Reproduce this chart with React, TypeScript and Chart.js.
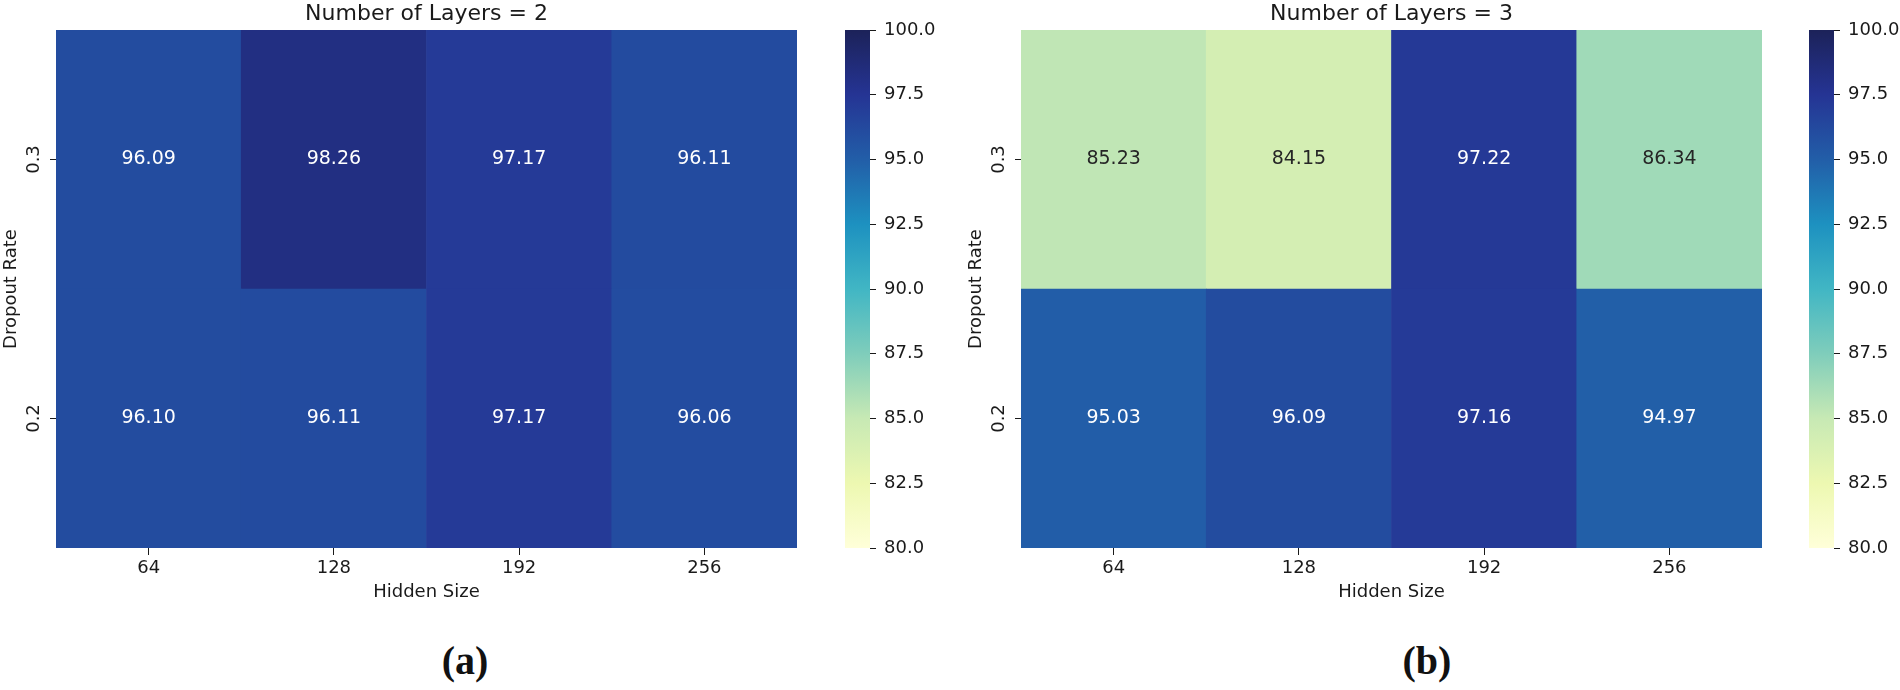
import React, { useEffect, useRef } from "react";
import { Chart, registerables } from "chart.js";

Chart.register(...registerables);

// ---------- data ----------
const hiddenSizes = ["64", "128", "192", "256"];
const dropoutRates = ["0.2", "0.3"]; // bottom row first, top row last
const layers2Drop02 = [96.1, 96.11, 97.17, 96.06];
const layers2Drop03 = [96.09, 98.26, 97.17, 96.11];
const layers3Drop02 = [95.03, 96.09, 97.16, 94.97];
const layers3Drop03 = [85.23, 84.15, 97.22, 86.34];
const colorMin = 80;
const colorMax = 100;
const colorStep = 2.5;
const panelTitles = ["Number of Layers = 2", "Number of Layers = 3"];
const captions = ["(a)", "(b)"];
const xAxisTitle = "Hidden Size";
const yAxisTitle = "Dropout Rate";

// ---------- styling ----------
const FONT = "'DejaVu Sans', sans-serif";
const TEXT = "#1a1a1a";
const YLGNBU = ["#ffffd9", "#edf8b1", "#c7e9b4", "#7fcdbb", "#41b6c4", "#1d91c0", "#225ea8", "#253494", "#1c2259"];

function hexToRgb(h: string): number[] {
  return [parseInt(h.slice(1, 3), 16), parseInt(h.slice(3, 5), 16), parseInt(h.slice(5, 7), 16)];
}

function cmapRgb(v: number): number[] {
  let t = (v - colorMin) / (colorMax - colorMin);
  t = Math.max(0, Math.min(1, t));
  const n = YLGNBU.length;
  const p = t * (n - 1);
  const i = Math.min(Math.floor(p), n - 2);
  const f = p - i;
  const a = hexToRgb(YLGNBU[i]);
  const b = hexToRgb(YLGNBU[i + 1]);
  return [0, 1, 2].map((k) => Math.round(a[k] + (b[k] - a[k]) * f));
}

function cmap(v: number): string {
  const c = cmapRgb(v);
  return `rgb(${c[0]},${c[1]},${c[2]})`;
}

function textColorFor(v: number): string {
  const c = cmapRgb(v).map((x) => {
    const s = x / 255;
    return s <= 0.03928 ? s / 12.92 : Math.pow((s + 0.055) / 1.055, 2.4);
  });
  const lum = 0.2126 * c[0] + 0.7152 * c[1] + 0.0722 * c[2];
  return lum > 0.408 ? "#262626" : "#ffffff";
}

const annotatePlugin = {
  id: "annotate",
  afterDatasetsDraw(chart: any) {
    const ctx = chart.ctx;
    ctx.save();
    ctx.font = `19px ${FONT}`;
    ctx.textAlign = "center";
    ctx.textBaseline = "middle";
    chart.data.datasets.forEach((ds: any, di: number) => {
      const meta = chart.getDatasetMeta(di);
      meta.data.forEach((el: any, i: number) => {
        const v = ds.values[i];
        const { x, y, base } = el.getProps(["x", "y", "base"], true);
        ctx.fillStyle = textColorFor(v);
        ctx.fillText(v.toFixed(2), x, (y + base) / 2);
      });
    });
    ctx.restore();
  },
};

const HEAT_W = 800;
const CANVAS_H = 608;

function Heatmap({ rows, title, left }: { rows: number[][]; title: string; left: number }) {
  const ref = useRef<HTMLCanvasElement>(null);
  useEffect(() => {
    const tickFont = { family: FONT, size: 18 };
    const chart = new Chart(ref.current as HTMLCanvasElement, {
      type: "bar",
      data: {
        labels: hiddenSizes,
        datasets: rows.map((vals, r) => ({
          label: dropoutRates[r],
          data: vals.map(() => [r, r + 1]),
          values: vals,
          backgroundColor: vals.map((v) => cmap(v)),
          borderWidth: 0,
          barPercentage: 1,
          categoryPercentage: 1,
          grouped: false,
        })) as any,
      },
      options: {
        animation: false,
        responsive: false,
        layout: { padding: { right: 3 } },
        plugins: {
          legend: { display: false },
          tooltip: { enabled: false },
          title: {
            display: true,
            text: title,
            fullSize: false,
            color: TEXT,
            font: { family: FONT, size: 22, weight: "normal", lineHeight: 1 },
            padding: { top: 3, bottom: 5 },
          },
        },
        scales: {
          x: {
            type: "category",
            offset: true,
            grid: { display: true, drawOnChartArea: false, offset: false, tickLength: 7, tickColor: TEXT },
            border: { display: false },
            ticks: { font: tickFont, color: TEXT, padding: 3, maxRotation: 0 },
            title: { display: true, text: xAxisTitle, font: tickFont, color: TEXT, padding: { top: 0, bottom: 5 } },
            afterFit: (s: any) => {
              s.height = 60;
            },
          },
          y: {
            type: "linear",
            min: 0,
            max: dropoutRates.length,
            afterBuildTicks: (s: any) => {
              s.ticks = dropoutRates.map((_, i) => ({ value: i + 0.5 }));
            },
            ticks: {
              callback: (v: any) => dropoutRates[Math.floor(Number(v))],
              minRotation: 90,
              maxRotation: 90,
              crossAlign: "center",
              padding: 1,
              font: tickFont,
              color: TEXT,
            },
            grid: { drawOnChartArea: false, tickLength: 6, tickColor: TEXT },
            border: { display: false },
            title: { display: true, text: yAxisTitle, font: tickFont, color: TEXT, padding: { top: 1, bottom: 0 } },
            afterFit: (s: any) => {
              s.width = 56;
            },
          },
        },
      } as any,
      plugins: [annotatePlugin],
    });
    return () => chart.destroy();
  }, []);
  return (
    <canvas
      ref={ref}
      width={HEAT_W}
      height={CANVAS_H}
      style={{ position: "absolute", left, top: 0, width: HEAT_W, height: CANVAS_H }}
    />
  );
}

const BAR_W = 95;

function ColorBar({ left }: { left: number }) {
  const ref = useRef<HTMLCanvasElement>(null);
  useEffect(() => {
    const chart = new Chart(ref.current as HTMLCanvasElement, {
      type: "bar",
      data: {
        labels: [""],
        datasets: [
          {
            data: [[colorMin, colorMax]] as any,
            backgroundColor: (c: any) => {
              const area = c.chart.chartArea;
              if (!area) return YLGNBU[0];
              const g = c.chart.ctx.createLinearGradient(0, area.bottom, 0, area.top);
              YLGNBU.forEach((col, i) => g.addColorStop(i / (YLGNBU.length - 1), col));
              return g;
            },
            borderWidth: 0,
            barPercentage: 1,
            categoryPercentage: 1,
          },
        ],
      },
      options: {
        animation: false,
        responsive: false,
        layout: { padding: { top: 30, bottom: 60 } },
        plugins: { legend: { display: false }, tooltip: { enabled: false } },
        scales: {
          x: { display: false },
          y: {
            position: "right",
            min: colorMin,
            max: colorMax,
            ticks: {
              stepSize: colorStep,
              callback: (v: any) => Number(v).toFixed(1),
              font: { family: FONT, size: 18 },
              color: TEXT,
              padding: 8,
            },
            grid: { drawOnChartArea: false, tickLength: 6, tickColor: TEXT },
            border: { display: false },
            afterFit: (s: any) => {
              s.width = 70;
            },
          },
        },
      } as any,
    });
    return () => chart.destroy();
  }, []);
  return (
    <canvas
      ref={ref}
      width={BAR_W}
      height={CANVAS_H}
      style={{ position: "absolute", left, top: 0, width: BAR_W, height: CANVAS_H }}
    />
  );
}

function Caption({ text, center }: { text: string; center: number }) {
  return (
    <div
      style={{
        position: "absolute",
        left: center - 100,
        top: 641,
        width: 200,
        textAlign: "center",
        fontFamily: "'Liberation Serif', 'Times New Roman', serif",
        fontWeight: "bold",
        fontSize: 40,
        lineHeight: "40px",
        color: "#111",
      }}
    >
      {text}
    </div>
  );
}

export default function App() {
  return (
    <div style={{ position: "absolute", left: 0, top: 0, width: 1900, height: 690, background: "#fff", overflow: "hidden" }}>
      <Heatmap rows={[layers2Drop02, layers2Drop03]} title={panelTitles[0]} left={0} />
      <ColorBar left={845} />
      <Heatmap rows={[layers3Drop02, layers3Drop03]} title={panelTitles[1]} left={965} />
      <ColorBar left={1809} />
      <Caption text={captions[0]} center={465} />
      <Caption text={captions[1]} center={1427} />
    </div>
  );
}
